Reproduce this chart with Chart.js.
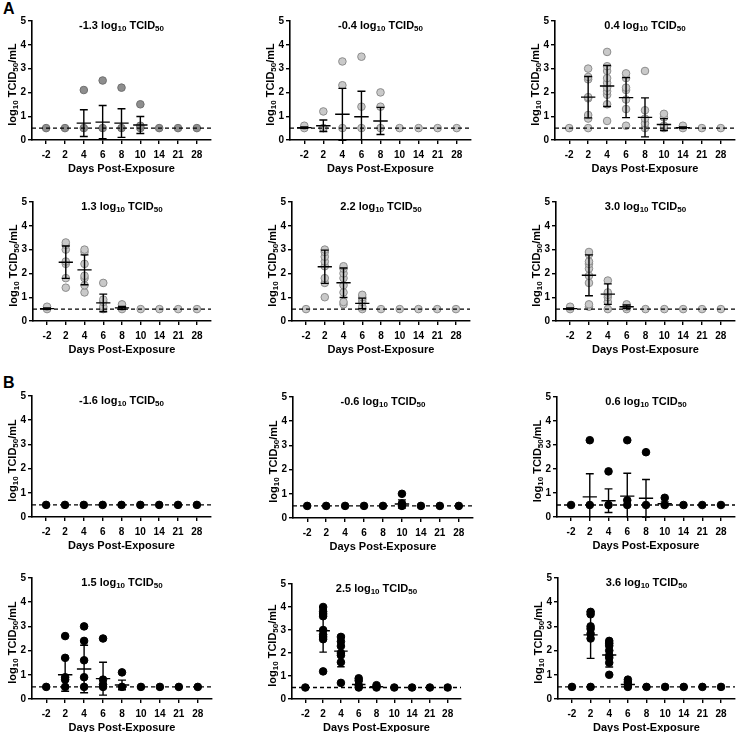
<!DOCTYPE html>
<html>
<head>
<meta charset="utf-8">
<script src="https://cdn.jsdelivr.net/npm/chart.js@4.4.1/dist/chart.umd.min.js"></script>
<style>
  html, body { margin:0; padding:0; background:#fff; }
  body { width:741px; height:732px; position:relative; overflow:hidden; font-family:"Liberation Sans", Arial, sans-serif; }
  canvas { position:absolute; }
  .lbl { position:absolute; font-weight:bold; font-size:16px; color:#000; }
</style>
</head>
<body>
<div class="lbl" style="left:3px;top:0px;">A</div>
<div class="lbl" style="left:3px;top:374px;">B</div>
<script>
// ---- shared ----
const dayLabels = ['-2','2','4','6','8','10','14','21','28'];
const yTicks = [0,1,2,3,4,5];
const detectionLimit = 0.5;

// ---- Panel A1: -1.3 ----
const a1Dose = '-1.3';
const a1Points = [[0.5],[0.5],[0.5,2.1],[0.5,2.5],[0.5,2.2],[0.5,0.6,1.5],[0.5],[0.5],[0.5]];
const a1Mean = [0.5,0.5,0.71,0.75,0.71,0.63,0.5,0.5,0.5];
const a1Sd   = [0,0,0.56,0.7,0.6,0.36,0,0,0];

// ---- Panel A2: -0.4 ----
const a2Dose = '-0.4';
const a2Points = [[0.5,0.6],[0.5,0.5,1.2],[0.5,2.3,3.3],[0.5,1.4,3.5],[0.5,1.4,2.0],[0.5],[0.5],[0.5],[0.5]];
const a2Mean = [0.52,0.6,1.08,0.98,0.8,0.5,0.5,0.5,0.5];
const a2Sd   = [0.03,0.24,1.09,1.07,0.57,0,0,0,0];

// ---- Panel A3: 0.4 ----
const a3Dose = '0.4';
const a3Points = [[0.5],[0.5,0.9,1.05,1.75,1.8,2.55,2.65,3.0],[0.8,1.5,1.9,2.05,2.2,2.4,2.6,2.9,3.1,3.7],
  [0.6,1.3,1.7,2.1,2.2,2.6,2.8],[0.5,0.7,0.9,1.25,2.9],[0.5,0.6,0.95,1.1],[0.5,0.6],[0.5],[0.5]];
const a3Mean = [0.5,1.8,2.27,1.78,0.95,0.65,0.52,0.5,0.5];
const a3Sd   = [0,0.87,0.86,0.84,0.82,0.25,0.03,0,0];

// ---- Panel A4: 1.3 ----
const a4Dose = '1.3';
const a4Points = [[0.5,0.6],[1.4,1.8,2.4,2.5,3.0,3.2,3.3],[1.2,1.5,1.8,1.9,2.4,2.9,3.0],[0.5,0.6,0.8,0.9,1.6],[0.5,0.6,0.7],[0.5],[0.5],[0.5],[0.5]];
const a4Mean = [0.52,2.47,2.15,0.76,0.55,0.5,0.5,0.5,0.5];
const a4Sd   = [0.03,0.68,0.63,0.37,0.06,0,0,0,0];

// ---- Panel A5: 2.2 ----
const a5Dose = '2.2';
const a5Points = [[0.5],[1.0,1.6,1.8,2.3,2.5,2.7,2.9,3.0],[0.7,0.8,1.2,1.5,1.8,2.0,2.2,2.3],[0.5,0.6,0.8,0.9,1.0,1.1],[0.5],[0.5],[0.5],[0.5],[0.5]];
const a5Mean = [0.5,2.28,1.61,0.74,0.5,0.5,0.5,0.5,0.5];
const a5Sd   = [0,0.7,0.62,0.22,0,0,0,0,0];

// ---- Panel A6: 3.0 ----
const a6Dose = '3.0';
const a6Points = [[0.5,0.6],[0.6,0.7,1.6,1.9,2.2,2.4,2.5,2.8,2.9],[0.5,0.8,1.0,1.1,1.2,1.7],[0.5,0.6,0.7],[0.5],[0.5],[0.5],[0.5],[0.5]];
const a6Mean = [0.52,1.92,1.13,0.6,0.5,0.5,0.5,0.5,0.5];
const a6Sd   = [0.03,0.86,0.43,0.07,0,0,0,0,0];

// ---- Panel B1: -1.6 ----
const b1Dose = '-1.6';
const b1Points = [[0.5],[0.5],[0.5],[0.5],[0.5],[0.5],[0.5],[0.5],[0.5]];
const b1Mean = [0.5,0.5,0.5,0.5,0.5,0.5,0.5,0.5,0.5];
const b1Sd   = [0,0,0,0,0,0,0,0,0];

// ---- Panel B2: -0.6 ----
const b2Dose = '-0.6';
const b2Points = [[0.5],[0.5],[0.5],[0.5],[0.5],[0.5,0.6,1.0],[0.5],[0.5],[0.5]];
const b2Mean = [0.5,0.5,0.5,0.5,0.5,0.58,0.5,0.5,0.5];
const b2Sd   = [0,0,0,0,0,0.17,0,0,0];

// ---- Panel B3: 0.6 ----
const b3Dose = '0.6';
const b3Points = [[0.5],[0.5,3.2],[0.5,1.9],[0.5,0.7,3.2],[0.5,2.7],[0.5,0.8],[0.5],[0.5],[0.5]];
const b3Mean = [0.5,0.84,0.68,0.87,0.78,0.55,0.5,0.5,0.5];
const b3Sd   = [0,0.96,0.49,0.95,0.78,0.08,0,0,0];

// ---- Panel B4: 1.5 ----
const b4Dose = '1.5';
const b4Points = [[0.5],[0.5,0.8,0.9,1.7,2.6],[0.5,0.9,1.6,2.4,3.0],[0.5,0.6,0.8,2.5],[0.5,1.1],[0.5],[0.5],[0.5],[0.5]];
const b4Mean = [0.5,1.0,1.24,0.84,0.58,0.5,0.5,0.5,0.5];
const b4Sd   = [0,0.68,0.98,0.68,0.2,0,0,0,0];

// ---- Panel B5: 2.5 ----
const b5Dose = '2.5';
const b5Points = [[0.5],[1.2,2.6,2.7,2.8,3.0,3.6,3.7,3.8,4.0],[0.7,1.6,1.9,2.0,2.3,2.5,2.7],[0.5,0.6,0.8,0.9],[0.5,0.6],[0.5],[0.5],[0.5],[0.5]];
const b5Mean = [0.5,2.97,2.08,0.63,0.53,0.5,0.5,0.5,0.5];
const b5Sd   = [0,0.93,0.68,0.15,0.04,0,0,0,0];

// ---- Panel B6: 3.6 ----
const b6Dose = '3.6';
const b6Points = [[0.5],[0.5,2.5,2.7,2.9,3.0,3.5,3.6],[1.0,1.5,1.7,1.8,2.0,2.2,2.3,2.4],[0.5,0.6,0.7,0.8],[0.5],[0.5],[0.5],[0.5],[0.5]];
const b6Mean = [0.5,2.65,1.82,0.6,0.5,0.5,0.5,0.5,0.5];
const b6Sd   = [0,0.97,0.5,0.1,0,0,0,0,0];

// ---- styles ----
const styleDark  = { fill:'#8e8e8e', stroke:'#6f6f6f' };
const styleLight = { fill:'#c9c9c9', stroke:'#8c8c8c' };
const styleBlack = { fill:'#000000', stroke:'#000000' };

const FONT = '"Liberation Sans", Arial, sans-serif';

function drawRich(ctx, parts, cx, cy) {
  const main = 'bold 11px ' + FONT, sub = 'bold 8px ' + FONT;
  let total = 0;
  parts.forEach(p => { ctx.font = p[1] ? sub : main; total += ctx.measureText(p[0]).width; });
  let x = cx - total / 2;
  ctx.textBaseline = 'middle';
  ctx.textAlign = 'left';
  ctx.fillStyle = '#000';
  parts.forEach(p => {
    ctx.font = p[1] ? sub : main;
    ctx.fillText(p[0], x, cy + (p[1] ? 3 : 0));
    x += ctx.measureText(p[0]).width;
  });
}

const richPlugin = {
  id: 'rich',
  afterDraw(chart, args, opts) {
    const ctx = chart.ctx, a = chart.chartArea;
    ctx.save();
    drawRich(ctx, [[opts.dose + ' log', 0], ['10', 1], [' TCID', 0], ['50', 1]], (a.left + a.right) / 2, a.top + 5);
    ctx.translate(a.left - 19, (a.top + a.bottom) / 2 + 4);
    ctx.rotate(-Math.PI / 2);
    drawRich(ctx, [['log', 0], ['10', 1], [' TCID', 0], ['50', 1], ['/mL', 0]], 0, 0);
    ctx.restore();
  }
};

function errorSegments(mean, sd) {
  const out = [];
  const mw = 0.38, cw = 0.21;
  mean.forEach((m, i) => {
    if (!(sd[i] > 0)) return;
    const hi = m + sd[i], lo = m - sd[i];
    out.push({x:i-mw, y:m}, {x:i+mw, y:m}, {x:i, y:null});
    out.push({x:i, y:lo}, {x:i, y:hi}, {x:i, y:null});
    out.push({x:i-cw, y:hi}, {x:i+cw, y:hi}, {x:i, y:null});
    out.push({x:i-cw, y:lo}, {x:i+cw, y:lo}, {x:i, y:null});
  });
  return out;
}

function makePanel(box, dose, points, mean, sd, style) {
  const padL = 34, padT = 10, padR = 3, xH = 36;
  const cv = document.createElement('canvas');
  const w = box.r - box.l + padL + padR;
  const h = box.b - box.t + padT + xH;
  cv.width = w; cv.height = h;
  cv.style.left = (box.l - padL) + 'px';
  cv.style.top = (box.t - padT) + 'px';
  cv.style.width = w + 'px'; cv.style.height = h + 'px';
  document.body.appendChild(cv);

  const scatter = [];
  points.forEach((vals, i) => vals.forEach(v => scatter.push({x:i, y:v})));

  new Chart(cv, {
    type: 'scatter',
    data: {
      datasets: [
        { type:'scatter', data: scatter, pointRadius: 3.8, pointBackgroundColor: style.fill,
          pointBorderColor: style.stroke, pointBorderWidth: 1, order: 3 },
        { type:'line', data: [{x:-0.75, y:detectionLimit}, {x:8.75, y:detectionLimit}], borderColor:'#000',
          borderWidth: 1.4, borderDash:[4,3], pointRadius:0, order: 2 },
        { type:'line', data: errorSegments(mean, sd), borderColor:'#000', borderWidth: 1.4,
          pointRadius:0, spanGaps:false, order: 1, clip: 1 }
      ]
    },
    options: {
      responsive:false, animation:false, devicePixelRatio:1,
      layout: { padding: { left:0, top:padT, right:padR, bottom:0 } },
      plugins: { legend:{display:false}, tooltip:{enabled:false}, rich:{ dose } },
      scales: {
        x: {
          type:'linear', min:-0.75, max:8.75,
          afterBuildTicks: s => { s.ticks = dayLabels.map((_, i) => ({value:i})); },
          afterFit: s => { s.height = xH; },
          ticks: { callback: v => dayLabels[v], color:'#000', font:{ family:FONT, weight:'bold', size:10 }, padding:5, maxRotation:0, autoSkip:false },
          grid: { display:true, drawOnChartArea:false, drawTicks:true, tickLength:4, color:'#000', lineWidth:1.4 },
          border: { display:true, color:'#000', width:1.6 },
          title: { display:true, text:'Days Post-Exposure', color:'#000', font:{ family:FONT, weight:'bold', size:11 }, padding:{top:2, bottom:0} }
        },
        y: {
          min:0, max:5,
          afterBuildTicks: s => { s.ticks = yTicks.map(v => ({value:v})); },
          afterFit: s => { s.width = padL; },
          ticks: { color:'#000', font:{ family:FONT, weight:'bold', size:10 }, padding:2 },
          grid: { display:true, drawOnChartArea:false, drawTicks:true, tickLength:4, color:'#000', lineWidth:1.4 },
          border: { display:true, color:'#000', width:1.6 }
        }
      }
    },
    plugins: [richPlugin]
  });
}

makePanel({l:32, t:21, r:213, b:140},  a1Dose, a1Points, a1Mean, a1Sd, styleDark);
makePanel({l:290, t:21, r:473, b:140}, a2Dose, a2Points, a2Mean, a2Sd, styleLight);
makePanel({l:555, t:21, r:737, b:140}, a3Dose, a3Points, a3Mean, a3Sd, styleLight);
makePanel({l:33, t:202, r:213, b:321}, a4Dose, a4Points, a4Mean, a4Sd, styleLight);
makePanel({l:292, t:202, r:472, b:321}, a5Dose, a5Points, a5Mean, a5Sd, styleLight);
makePanel({l:556, t:202, r:737, b:321}, a6Dose, a6Points, a6Mean, a6Sd, styleLight);
makePanel({l:32, t:396, r:213, b:517}, b1Dose, b1Points, b1Mean, b1Sd, styleBlack);
makePanel({l:293, t:397, r:475, b:518}, b2Dose, b2Points, b2Mean, b2Sd, styleBlack);
makePanel({l:557, t:397, r:737, b:517}, b3Dose, b3Points, b3Mean, b3Sd, styleBlack);
makePanel({l:32, t:578, r:214, b:699}, b4Dose, b4Points, b4Mean, b4Sd, styleBlack);
makePanel({l:292, t:584, r:463, b:699}, b5Dose, b5Points, b5Mean, b5Sd, styleBlack);
makePanel({l:558, t:578, r:737, b:699}, b6Dose, b6Points, b6Mean, b6Sd, styleBlack);
</script>
</body>
</html>
